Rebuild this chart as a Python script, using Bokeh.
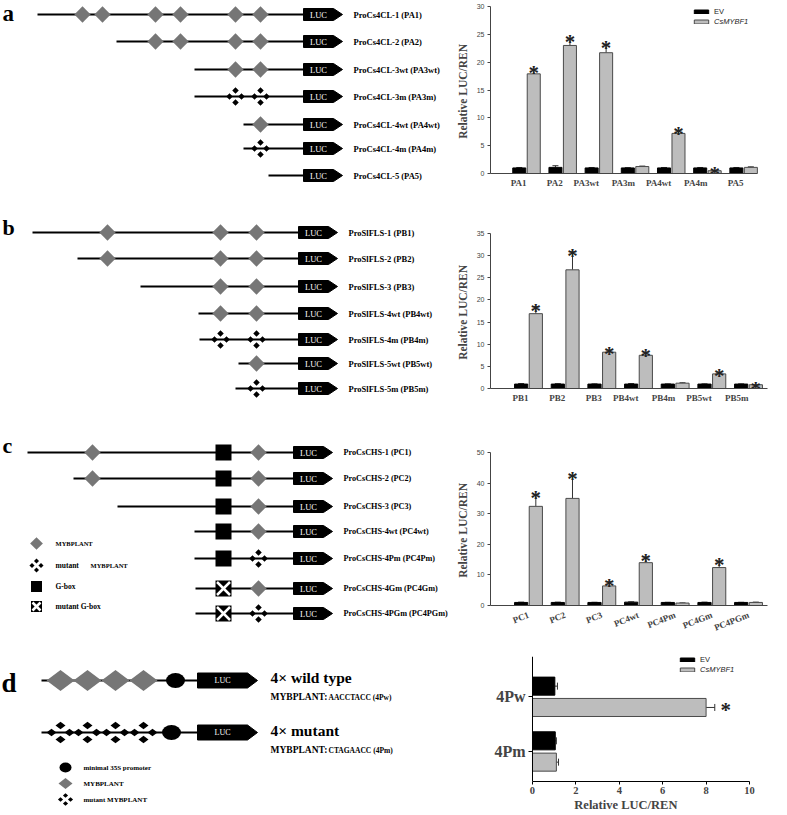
import numpy as np
from bokeh.plotting import figure
from bokeh.models import (Range1d, FixedTicker, ColumnDataSource, Whisker, TeeHead,
                          Legend, LegendItem)
from bokeh.layouts import row, column
from bokeh.embed import file_html
from bokeh.resources import INLINE
from bokeh.core.properties import value

SERIF = "Liberation Serif"
SANS = "Liberation Sans"
MOTIF = "#767676"
BAR_GREY = "#bdbdbd"

# ---------------- bar chart data ----------------
a_cats = ["PA1", "PA2", "PA3wt", "PA3m", "PA4wt", "PA4m", "PA5"]
a_ev = [1.0, 1.1, 1.0, 1.0, 1.0, 1.0, 1.0]
a_ev_err = [0.08, 0.3, 0.08, 0.05, 0.08, 0.08, 0.08]
a_myb = [17.9, 23.0, 21.7, 1.25, 7.2, 0.5, 1.1]
a_myb_err = [0.85, 1.3, 1.5, 0.08, 0.55, 0.08, 0.1]
a_sig = [True, True, True, False, True, True, False]

b_cats = ["PB1", "PB2", "PB3", "PB4wt", "PB4m", "PB5wt", "PB5m"]
b_ev = [1.0, 1.0, 1.0, 1.0, 1.0, 1.0, 1.0]
b_ev_err = [0.12, 0.1, 0.05, 0.12, 0.05, 0.05, 0.05]
b_myb = [16.9, 26.8, 8.2, 7.5, 1.2, 3.3, 0.85]
b_myb_err = [1.6, 4.1, 0.5, 0.7, 0.1, 0.4, 0.05]
b_sig = [True, True, True, True, False, True, True]

c_cats = ["PC1", "PC2", "PC3", "PC4wt", "PC4Pm", "PC4Gm", "PC4PGm"]
c_ev = [1.0, 1.0, 1.0, 1.1, 1.0, 1.0, 1.0]
c_ev_err = [0.1, 0.1, 0.05, 0.1, 0.05, 0.1, 0.05]
c_myb = [32.4, 35.0, 6.4, 14.0, 0.8, 12.4, 1.0]
c_myb_err = [3.9, 7.6, 1.4, 1.9, 0.05, 2.1, 0.1]
c_sig = [True, True, True, True, False, True, False]

d_cats = ["4Pm", "4Pw"]          # bottom to top
d_ev = [1.05, 1.03]
d_ev_err = [0.05, 0.12]
d_myb = [1.1, 8.0]
d_myb_err = [0.1, 0.4]
d_sig = [False, True]

# ---------------- construct schematics ----------------
a_names = ["ProCs4CL-1 (PA1)", "ProCs4CL-2 (PA2)", "ProCs4CL-3wt (PA3wt)", "ProCs4CL-3m (PA3m)",
           "ProCs4CL-4wt (PA4wt)", "ProCs4CL-4m (PA4m)", "ProCs4CL-5 (PA5)"]
a_row_y = [14, 41, 69, 96, 124, 148, 175]
a_start = [37, 116, 194, 194, 243, 243, 268]
a_wt = [[82, 102, 155, 180, 235, 260], [155, 180, 235, 260], [235, 260], [], [260], [], []]
a_mut = [[], [], [], [235, 260], [], [260], []]

b_names = ["ProSlFLS-1 (PB1)", "ProSlFLS-2 (PB2)", "ProSlFLS-3 (PB3)", "ProSlFLS-4wt (PB4wt)",
           "ProSlFLS-4m (PB4m)", "ProSlFLS-5wt (PB5wt)", "ProSlFLS-5m (PB5m)"]
b_row_y = [232, 258, 286, 313, 339, 363, 388]
b_start = [32, 77, 140, 198, 199, 238, 235]
b_wt = [[107, 220, 256], [107, 220, 256], [220, 256], [220, 256], [], [256], []]
b_mut = [[], [], [], [], [220, 256], [], [256]]

c_names = ["ProCsCHS-1 (PC1)", "ProCsCHS-2 (PC2)", "ProCsCHS-3 (PC3)", "ProCsCHS-4wt (PC4wt)",
           "ProCsCHS-4Pm (PC4Pm)", "ProCsCHS-4Gm (PC4Gm)", "ProCsCHS-4PGm (PC4PGm)"]
c_row_y = [452, 478, 506, 531, 558, 588, 613]
c_start = [27, 73, 117, 194, 194, 195, 195]
c_wt = [[92, 258], [92, 258], [258], [258], [], [258], []]
c_mut = [[], [], [], [], [258], [], [258]]
c_gbox = [[223], [223], [223], [223], [223], [], []]
c_gmut = [[], [], [], [], [], [223], [223]]

d_row_y = [680, 732]
d_start = 41
d_sites = [60, 87, 115, 143]
d_prom_x = [175, 171]

W_LEFT, W_RIGHT, H_ALL = 448, 338, 814

# ======================= left schematic figure =======================
left = figure(width=W_LEFT, height=H_ALL, x_range=Range1d(0, W_LEFT), y_range=Range1d(H_ALL, 0),
              output_backend="svg", toolbar_location=None, min_border=0,
              x_axis_location=None, y_axis_location=None)
left.grid.visible = False
left.outline_line_color = None


def txt(p, x, y, s, size, style="bold", align="left", color="black", font=SERIF, baseline="middle"):
    p.text(x=[x], y=[y], text=[s], text_font=value(font), text_font_size=size,
           text_font_style=style, text_align=align, text_baseline=baseline, text_color=color)


def flatten(rows, ys):
    xs, yy = [], []
    for r, lst in enumerate(rows):
        for x in lst:
            xs.append(x)
            yy.append(ys[r])
    return xs, yy


def wt_motif(p, xs, ys, size=11.5):
    if xs:
        p.scatter(xs, ys, marker="square", angle=np.pi / 4, size=size,
                  fill_color=MOTIF, line_color=None)


def mut_motif(p, xs, ys, off=6.0, size=4.6):
    mx, my = [], []
    for x, y in zip(xs, ys):
        for dx, dy in ((0, -off), (0, off), (-off, 0), (off, 0)):
            mx.append(x + dx)
            my.append(y + dy)
    if mx:
        p.scatter(mx, my, marker="square", angle=np.pi / 4, size=size,
                  fill_color="black", line_color=None)


def gbox(p, xs, ys, s=16):
    if xs:
        p.scatter(xs, ys, marker="square", size=s, fill_color="black", line_color=None)


def gbox_mut(p, xs, ys, s=16):
    if xs:
        gbox(p, xs, ys, s)
        h = s / 2 - 1.5
        p.segment(x0=[x - h for x in xs], y0=[y - h for y in ys],
                  x1=[x + h for x in xs], y1=[y + h for y in ys], line_color="white", line_width=2.5)
        p.segment(x0=[x - h for x in xs], y0=[y + h for y in ys],
                  x1=[x + h for x in xs], y1=[y - h for y in ys], line_color="white", line_width=2.5)


def luc(p, x0, ys, w=30, tip=9, h=12, fs="8.5px"):
    xs = [[x0, x0 + w, x0 + w + tip, x0 + w, x0] for _ in ys]
    yy = [[y - h / 2, y - h / 2, y, y + h / 2, y + h / 2] for y in ys]
    p.patches(xs, yy, fill_color="black", line_color="black")
    p.text(x=[x0 + w / 2] * len(ys), y=ys, text=["LUC"] * len(ys), text_color="white",
           text_font=value(SERIF), text_font_size=fs, text_align="center", text_baseline="middle")


def panel(p, ys, starts, luc_x, names, name_x, wt, mut, gb=None, gm=None, fs="8.5px"):
    p.segment(x0=starts, y0=ys, x1=[luc_x] * len(ys), y1=ys, line_color="black", line_width=2)
    if gb:
        gbox(p, *flatten(gb, ys))
    if gm:
        gbox_mut(p, *flatten(gm, ys))
    wt_motif(p, *flatten(wt, ys))
    mut_motif(p, *flatten(mut, ys))
    luc(p, luc_x, ys)
    p.text(x=[name_x] * len(ys), y=ys, text=names, text_font=value(SERIF), text_font_size=fs,
           text_font_style="bold", text_baseline="middle")


panel(left, a_row_y, a_start, 303, a_names, 353, a_wt, a_mut)
panel(left, b_row_y, b_start, 298, b_names, 348, b_wt, b_mut)
panel(left, c_row_y, c_start, 293, c_names, 343, c_wt, c_mut, c_gbox, c_gmut, fs="8.2px")

# panel letters
txt(left, 2, 13, "a", "23px", baseline="alphabetic")
txt(left, 2, 227, "b", "22px")
txt(left, 2, 445, "c", "22px")
txt(left, 1, 682, "d", "27px")

# panel c legend
wt_motif(left, [36], [543], size=9)
mut_motif(left, [36], [565], off=4.5, size=3.6)
gbox(left, [36], [586], s=11)
gbox_mut(left, [36], [606], s=11)
txt(left, 55, 543, "MYBPLANT", "6.5px")
txt(left, 55, 565, "mutant", "7.5px")
txt(left, 90, 565, "MYBPLANT", "6.5px")
txt(left, 55, 586, "G-box", "7.5px")
txt(left, 55, 606, "mutant  G-box", "7.5px")

# panel d constructs
left.segment(x0=[d_start] * 2, y0=d_row_y, x1=[197] * 2, y1=d_row_y, line_color="black", line_width=2)
dx, dy = [], []
for s in d_sites:
    dx.append([s - 14, s, s + 14, s])
    dy.append([d_row_y[0], d_row_y[0] - 10.5, d_row_y[0], d_row_y[0] + 10.5])
left.patches(dx, dy, fill_color=MOTIF, line_color=None)
mx, my = [], []
for s in d_sites:
    for ox, oy in ((-9, 0), (9, 0), (0, -7), (0, 7)):
        cx, cy = s + ox, d_row_y[1] + oy
        mx.append([cx - 5, cx, cx + 5, cx])
        my.append([cy, cy - 3.8, cy, cy + 3.8])
left.patches(mx, my, fill_color="black", line_color=None)
left.ellipse(x=d_prom_x, y=d_row_y, width=19, height=15, fill_color="black", line_color=None)
luc(left, 197, d_row_y, w=50, tip=10, h=15, fs="8px")
txt(left, 270, 677, "4\u00d7 wild type", "15.5px")
txt(left, 270, 696, "MYBPLANT:", "9.5px")
txt(left, 328, 697, "AACCTACC (4Pw)", "7.5px")
txt(left, 270, 730, "4\u00d7 mutant", "15.5px")
txt(left, 270, 749, "MYBPLANT:", "9.5px")
txt(left, 328, 750, "CTAGAACC (4Pm)", "7.5px")

# panel d legend
left.ellipse(x=[65], y=[767], width=12, height=10, fill_color="black", line_color=None)
left.patches([[58, 65, 72, 65]], [[783, 777.5, 783, 788.5]], fill_color=MOTIF, line_color=None)
lm_x, lm_y = [], []
for ox, oy in ((-5, 0), (5, 0), (0, -4), (0, 4)):
    cx, cy = 65 + ox, 799 + oy
    lm_x.append([cx - 2.6, cx, cx + 2.6, cx])
    lm_y.append([cy, cy - 2.2, cy, cy + 2.2])
left.patches(lm_x, lm_y, fill_color="black", line_color=None)
txt(left, 83, 767, "minimal 35S promoter", "7px")
txt(left, 83, 783, "MYBPLANT", "7px")
txt(left, 83, 799, "mutant MYBPLANT", "7px")


# ======================= bar charts =======================
BL, BR = 42, 19   # common left/right borders (frames are aligned in the column)


def add_legend(p, r_ev, r_my, loc_ev, loc_my):
    for lab, r, loc, style in (("EV", r_ev, loc_ev, "normal"), ("CsMYBF1", r_my, loc_my, "italic")):
        lg = Legend(items=[LegendItem(label=lab, renderers=[r])], location=loc,
                    background_fill_alpha=0, border_line_color=None, padding=0, margin=0,
                    spacing=0, glyph_width=18, glyph_height=5, label_height=7, label_standoff=4,
                    label_text_font=SANS, label_text_font_size="7.5px",
                    label_text_font_style=style, label_text_color="#222222")
        p.add_layout(lg)


def vchart(cats, ev, ev_err, myb, myb_err, sig, h, ymax, ystep, bt, bb, xr, axis_end=None, orient=0.0):
    p = figure(width=W_RIGHT, height=h, x_range=Range1d(*xr), y_range=Range1d(0, ymax),
               output_backend="svg", toolbar_location=None,
               min_border_left=BL, min_border_right=BR, min_border_top=bt, min_border_bottom=bb)
    x = np.arange(len(cats), dtype=float)
    ev = np.array(ev); ev_err = np.array(ev_err)
    myb = np.array(myb); myb_err = np.array(myb_err)
    src = ColumnDataSource(dict(xe=x - 0.2, xm=x + 0.2, ev=ev, ev_up=ev + ev_err,
                                myb=myb, myb_up=myb + myb_err))
    r_ev = p.vbar(x="xe", top="ev", bottom=0, width=0.36, source=src,
                  fill_color="black", line_color="black")
    r_my = p.vbar(x="xm", top="myb", bottom=0, width=0.36, source=src,
                  fill_color=BAR_GREY, line_color="#4a4a4a")
    for base, lo, up in (("xe", "ev", "ev_up"), ("xm", "myb", "myb_up")):
        p.add_layout(Whisker(source=src, base=base, lower=lo, upper=up, dimension="height",
                             line_color="#333333", line_width=1, lower_head=None,
                             upper_head=TeeHead(size=6, line_color="#333333", line_width=1)))
    sx = [xi + 0.2 for xi, s in zip(x, sig) if s]
    sy = [m + e for m, e, s in zip(myb, myb_err, sig) if s]
    p.text(x=sx, y=sy, text=["*"] * len(sx), text_font=value(SERIF), text_font_style="bold",
           text_font_size="21px", text_align="center", text_baseline="alphabetic",
           y_offset=4, text_color="#222222")
    p.grid.visible = False
    p.outline_line_color = None
    xa = p.xaxis[0]
    xa.ticker = FixedTicker(ticks=list(range(len(cats))))
    xa.major_label_overrides = {i: c for i, c in enumerate(cats)}
    xa.major_tick_line_color = None
    xa.minor_tick_line_color = None
    xa.axis_line_color = "#444444"
    if axis_end is not None:
        xa.bounds = (xr[0], axis_end)
    xa.major_label_text_font = SERIF
    xa.major_label_text_font_style = "bold"
    xa.major_label_text_font_size = "9px"
    xa.major_label_standoff = 3
    xa.major_label_orientation = orient
    ya = p.yaxis[0]
    ya.ticker = FixedTicker(ticks=[float(v) for v in np.arange(0, ymax + 0.01, ystep)])
    ya.minor_tick_line_color = None
    ya.major_tick_out = 3
    ya.major_tick_in = 0
    ya.axis_line_color = "#444444"
    ya.major_tick_line_color = "#444444"
    ya.major_label_text_font = SANS
    ya.major_label_text_font_size = "7px"
    ya.major_label_text_color = "#444444"
    ya.major_label_standoff = 3
    ya.axis_label = "Relative  LUC/REN"
    ya.axis_label_text_font = SERIF
    ya.axis_label_text_font_style = "bold"
    ya.axis_label_text_font_size = "11.5px"
    ya.axis_label_standoff = 5
    return p, r_ev, r_my


fa, ra_ev, ra_my = vchart(a_cats, a_ev, a_ev_err, a_myb, a_myb_err, a_sig, 195, 30, 5, 6, 21,
                          (-0.995, 6.66), axis_end=6.39)
add_legend(fa, ra_ev, ra_my, (202, 157), (202, 147))
fb, _, _ = vchart(b_cats, b_ev, b_ev_err, b_myb, b_myb_err, b_sig, 215, 35, 5, 38, 19,
                  (-1.036, 6.518))
fc, _, _ = vchart(c_cats, c_ev, c_ev_err, c_myb, c_myb_err, c_sig, 230, 50, 10, 42, 31,
                  (-1.036, 6.518), orient=0.38)

# ---- panel d horizontal chart ----
fd = figure(width=W_RIGHT, height=174, x_range=Range1d(-1.935, 10.83), y_range=Range1d(-0.554, 1.732),
            output_backend="svg", toolbar_location=None,
            min_border_left=BL, min_border_right=BR, min_border_top=16, min_border_bottom=30)
yy = np.arange(len(d_cats), dtype=float)
d_src = ColumnDataSource(dict(ye=yy + 0.19, ym=yy - 0.2, ev=d_ev, ev_up=np.array(d_ev) + np.array(d_ev_err),
                              myb=d_myb, myb_up=np.array(d_myb) + np.array(d_myb_err)))
rd_ev = fd.hbar(y="ye", right="ev", left=0, height=0.33, source=d_src,
                fill_color="black", line_color="black")
rd_my = fd.hbar(y="ym", right="myb", left=0, height=0.33, source=d_src,
                fill_color=BAR_GREY, line_color="#4a4a4a")
for base, lo, up in (("ye", "ev", "ev_up"), ("ym", "myb", "myb_up")):
    fd.add_layout(Whisker(source=d_src, base=base, lower=lo, upper=up, dimension="width",
                          line_color="#333333", line_width=1, lower_head=None,
                          upper_head=TeeHead(size=7, line_color="#333333", line_width=1)))
dsx = [m + e for m, e, s in zip(d_myb, d_myb_err, d_sig) if s]
dsy = [v - 0.2 for v, s in zip(yy, d_sig) if s]
fd.text(x=dsx, y=dsy, text=["*"] * len(dsx), text_font=value(SERIF), text_font_style="bold",
        text_font_size="21px", text_align="center", text_baseline="middle",
        x_offset=11, y_offset=3, text_color="#222222")
fd.grid.visible = False
fd.outline_line_color = None
xa = fd.xaxis[0]
xa.ticker = FixedTicker(ticks=[0, 2, 4, 6, 8, 10])
xa.bounds = (0, 10)
xa.minor_tick_line_color = None
xa.major_tick_out = 3
xa.major_tick_in = 0
xa.major_label_text_font = SERIF
xa.major_label_text_font_style = "bold"
xa.major_label_text_font_size = "10.5px"
xa.major_label_standoff = 2
xa.axis_label = "Relative   LUC/REN"
xa.axis_label_text_font = SERIF
xa.axis_label_text_font_style = "bold"
xa.axis_label_text_font_size = "12.5px"
xa.axis_label_standoff = 1
ya = fd.yaxis[0]
ya.fixed_location = 0
ya.ticker = FixedTicker(ticks=[0, 1])
ya.major_label_overrides = {i: c for i, c in enumerate(d_cats)}
ya.minor_tick_line_color = None
ya.major_tick_out = 4
ya.major_tick_in = 0
ya.major_label_text_font = SERIF
ya.major_label_text_font_style = "bold"
ya.major_label_text_font_size = "16px"
ya.major_label_standoff = 3
add_legend(fd, rd_ev, rd_my, (188, 117), (188, 107))

layout = row(left, column(fa, fb, fc, fd))
open("out.html", "w").write(file_html(layout, INLINE))
